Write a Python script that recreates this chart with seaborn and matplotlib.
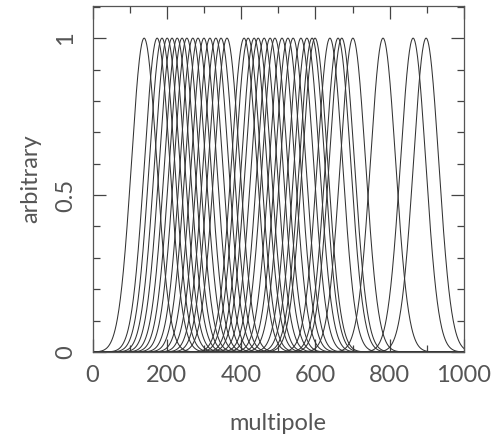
import numpy as np
import pandas as pd
import matplotlib
matplotlib.use("Agg")
import matplotlib.pyplot as plt
from matplotlib.ticker import MultipleLocator
import seaborn as sns

# Peak multipoles of the window functions
peak_centers = [139, 174, 187, 201, 214, 228, 241, 254, 270, 284, 300, 316,
                332, 346, 362, 408, 419, 435, 446, 462, 478, 491, 510, 526,
                540, 561, 577, 591, 599, 639, 661, 671, 701, 782, 863, 898]
window_sigma = 34.0
peak_height = 1.0

x_label = "multipole"
y_label = "arbitrary"
x_ticks = [0, 200, 400, 600, 800, 1000]
y_ticks = [0, 0.5, 1]
y_tick_labels = ["0", "0.5", "1"]

sns.set_theme(style="ticks")
plt.rcParams["font.family"] = ["Lato", "DejaVu Sans"]

fig = plt.figure(figsize=(4.96, 4.37), dpi=100)
ax = fig.add_axes([0.1865, 0.1945, 0.749, 0.7915])

ell = np.arange(0, 1001, 1.0)
rows = []
for i, c in enumerate(peak_centers):
    w = peak_height * np.exp(-0.5 * ((ell - c) / window_sigma) ** 2)
    rows.append(pd.DataFrame({"ell": ell, "w": w, "band": i}))
df = pd.concat(rows, ignore_index=True)

sns.lineplot(data=df, x="ell", y="w", hue="band",
             palette=["#333333"] * len(peak_centers),
             linewidth=0.75, legend=False, ax=ax, estimator=None)

ax.set_xlim(0, 1000)
ax.set_ylim(0, 1.102)
ax.set_xticks(x_ticks)
ax.set_xticklabels([str(t) for t in x_ticks])
ax.set_yticks(y_ticks)
ax.set_yticklabels(y_tick_labels)
ax.xaxis.set_minor_locator(MultipleLocator(100))
ax.yaxis.set_minor_locator(MultipleLocator(0.1))

ax.tick_params(which="both", direction="in", top=True, right=True,
               color="#444444", width=0.9)
ax.tick_params(which="major", length=9.5)
ax.tick_params(which="minor", length=5)
ax.tick_params(axis="x", which="major", labelsize=17, pad=9,
               labelcolor="#555555")
ax.tick_params(axis="y", which="major", labelsize=17, pad=12,
               labelcolor="#555555", labelrotation=90)
for lab in ax.get_yticklabels():
    lab.set_verticalalignment("center")

for s in ax.spines.values():
    s.set_color("#555555")
    s.set_linewidth(0.9)

ax.set_xlabel(x_label, fontsize=17, color="#555555", labelpad=20)
ax.set_ylabel(y_label, fontsize=17, color="#555555", labelpad=10)

fig.savefig("out.png", dpi=100, facecolor="white")
